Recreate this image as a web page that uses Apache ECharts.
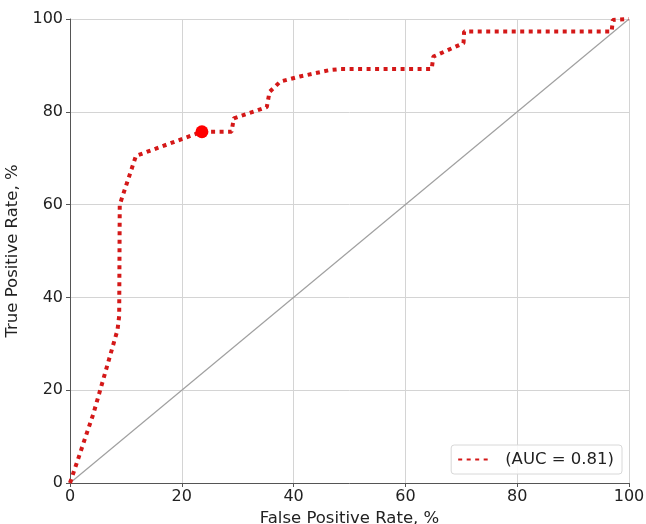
<!DOCTYPE html>
<html>
<head>
<meta charset="utf-8">
<script src="https://cdn.jsdelivr.net/npm/echarts@6/dist/echarts.min.js"></script>
<style>
  html, body { margin: 0; padding: 0; background: #fff; }
  #main { width: 646px; height: 524px; }
</style>
</head>
<body>
<div id="main"></div>
<script>
// ROC curve points: [FPR %, TPR %]
const rocFpr = [0, 4.2, 8.5, 8.8, 8.9, 11.8, 23.6, 28.9, 29.3, 35.2, 35.7, 37.6, 41.1, 46.5, 48.3, 64.7, 65.0, 70.4, 70.5, 96.9, 97.1, 100];
const rocTpr = [0, 15, 33, 36, 60, 70.5, 75.7, 75.7, 78.6, 81.0, 84.3, 86.5, 87.6, 89.0, 89.2, 89.2, 91.9, 94.8, 97.3, 97.3, 99.8, 100];
const chancePoints = [[0, 0], [100, 100]];
const cutoffPoint = [23.6, 75.7];
const curveName = '(AUC = 0.81)';

const rocData = rocFpr.map((x, i) => [x, rocTpr[i]]);
const font = 'DejaVu Sans';
const red = '#d41818';

var myChart = echarts.init(document.getElementById('main'));

var option = {
  animation: false,
  backgroundColor: '#fff',
  grid: { left: 70, top: 19, right: 17, bottom: 41, outerBoundsMode: 'none', containLabel: false },
  xAxis: {
    type: 'value',
    min: 0, max: 100, interval: 20,
    name: 'False Positive Rate, %',
    nameLocation: 'middle',
    nameGap: 22,
    nameTextStyle: { fontFamily: font, fontSize: 16.5, color: '#222' },
    axisLine: { show: true, lineStyle: { color: '#555', width: 1 } },
    axisTick: { show: true, length: 4, lineStyle: { color: '#555' } },
    axisLabel: { fontFamily: font, fontSize: 16, color: '#222', margin: 6 },
    splitLine: { show: true, lineStyle: { color: '#d4d4d4', width: 1 } }
  },
  yAxis: {
    type: 'value',
    min: 0, max: 100, interval: 20,
    name: 'True Positive Rate, %',
    nameLocation: 'middle',
    nameGap: 42,
    nameTextStyle: { fontFamily: font, fontSize: 16.5, color: '#222' },
    axisLine: { show: true, lineStyle: { color: '#555', width: 1 } },
    axisTick: { show: true, length: 4, lineStyle: { color: '#555' } },
    axisLabel: { fontFamily: font, fontSize: 16, color: '#222', margin: 7 },
    splitLine: { show: true, lineStyle: { color: '#d4d4d4', width: 1 } }
  },
  legend: {
    data: [curveName],
    right: 24,
    bottom: 50,
    orient: 'vertical',
    itemWidth: 32,
    itemHeight: 12,
    padding: [6, 8, 6, 6],
    borderColor: '#d8d8d8',
    borderWidth: 1,
    borderRadius: 3,
    backgroundColor: 'rgba(255,255,255,0.85)',
    itemStyle: { opacity: 0, borderWidth: 0 },
    textStyle: { fontFamily: font, fontSize: 16.5, color: '#222', padding: [0, 0, 0, 10] }
  },
  series: [
    {
      name: 'chance',
      type: 'line',
      data: chancePoints,
      symbol: 'none',
      silent: true,
      lineStyle: { color: '#a0a0a0', width: 1.2 },
      z: 2
    },
    {
      name: curveName,
      type: 'line',
      data: rocData,
      symbol: 'none',
      lineStyle: { color: red, width: 4, type: [4, 4.5], cap: 'butt' },
      itemStyle: { color: red },
      z: 3
    },
    {
      name: 'cutoff',
      type: 'scatter',
      data: [cutoffPoint],
      symbol: 'circle',
      symbolSize: 13,
      itemStyle: { color: '#ff0000', opacity: 1 },
      z: 4
    }
  ]
};

myChart.setOption(option);
</script>
</body>
</html>
